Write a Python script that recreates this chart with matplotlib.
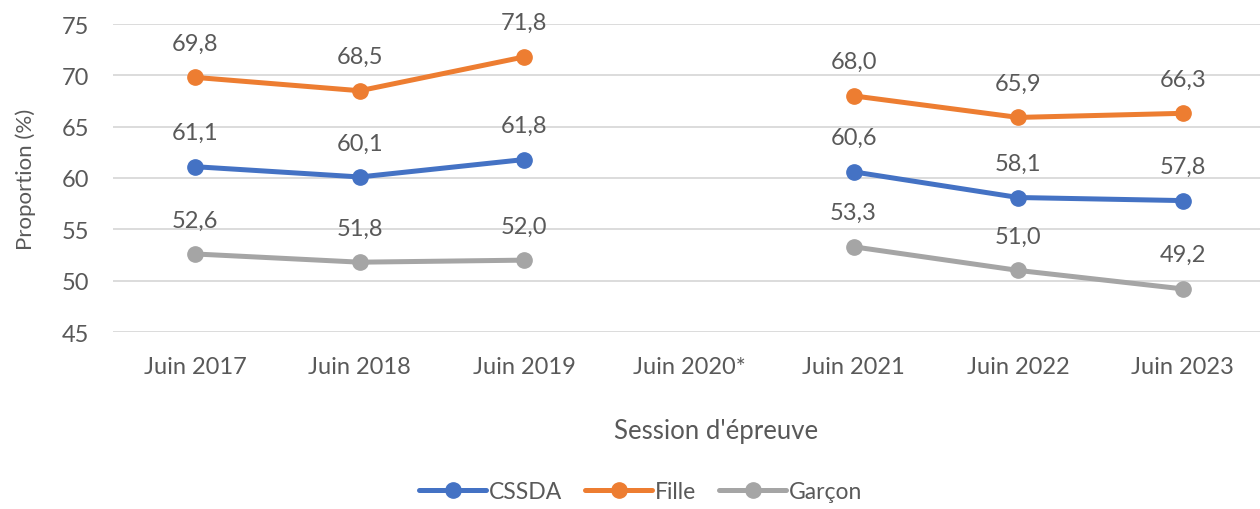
import numpy as np
import matplotlib.pyplot as plt

# Données
sessions = ['Juin 2017', 'Juin 2018', 'Juin 2019', 'Juin 2020*', 'Juin 2021', 'Juin 2022', 'Juin 2023']
cssda = [61.1, 60.1, 61.8, np.nan, 60.6, 58.1, 57.8]
fille = [69.8, 68.5, 71.8, np.nan, 68.0, 65.9, 66.3]
garcon = [52.6, 51.8, 52.0, np.nan, 53.3, 51.0, 49.2]

series = [('CSSDA', cssda, '#4472C4'),
          ('Fille', fille, '#ED7D31'),
          ('Garçon', garcon, '#A5A5A5')]

txt = '#595959'
plt.rcParams['font.family'] = ['Lato', 'DejaVu Sans']

fig = plt.figure(figsize=(12.6, 5.1), dpi=100)
ax = fig.add_axes([113 / 1260, 1 - 333 / 510, (1265 - 113) / 1260, 308 / 510])

x = np.arange(len(sessions))
for name, vals, col in series:
    ax.plot(x, vals, color=col, lw=3.6, marker='o', ms=11, label=name, solid_capstyle='round')
    for xi, v in zip(x, vals):
        if not np.isnan(v):
            ax.annotate(f'{v:.1f}'.replace('.', ','), (xi, v), xytext=(0, 17),
                        textcoords='offset points', ha='center', va='bottom',
                        fontsize=17, color=txt)

ax.set_xlim(-0.5, 6.5)
ax.set_ylim(45, 75)
ax.set_yticks(range(45, 80, 5))
ax.set_xticks(x)
ax.set_xticklabels(sessions)
ax.tick_params(axis='both', length=0, labelsize=17, labelcolor=txt)
ax.tick_params(axis='x', pad=17)
ax.tick_params(axis='y', pad=17)
ax.grid(axis='y', color='#D9D9D9', lw=1.3)
ax.set_axisbelow(True)
for s in ax.spines.values():
    s.set_visible(False)

ax.set_ylabel('Proportion (%)', fontsize=16, color=txt, labelpad=19)
fig.text(716 / 1260, 1 - 432 / 510, "Session d'épreuve", fontsize=18.5, color=txt,
         ha='center', va='center')

fig.legend(loc='center', bbox_to_anchor=(641 / 1260, 1 - 493 / 510), ncol=3,
           frameon=False, fontsize=16.5, labelcolor=txt, handlelength=2.9,
           columnspacing=1.0, handletextpad=0.15)

fig.savefig('out.png', dpi=100)
